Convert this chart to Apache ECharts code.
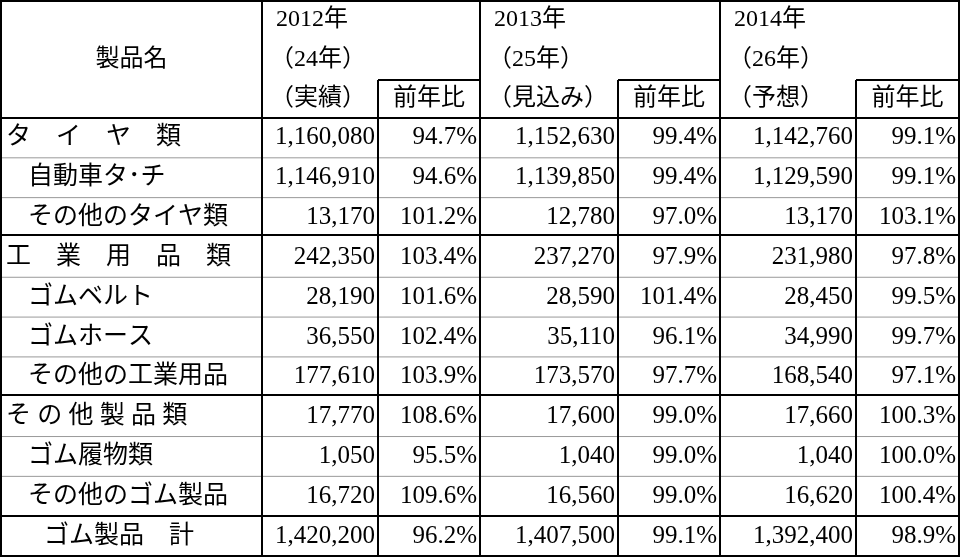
<!DOCTYPE html><html><head><meta charset="utf-8"><script src="https://cdn.jsdelivr.net/npm/echarts@6/dist/echarts.min.js"></script>
<style>html,body{margin:0;background:#fff}#c{width:970px;height:557px}</style></head><body><div id="c"></div><script>
const names=["タ　イ　ヤ　類","自動車タ･チ","その他のタイヤ類","工　業　用　品　類","ゴムベルト","ゴムホース","その他の工業用品","そ の 他 製 品 類","ゴム履物類","その他のゴム製品","ゴム製品　計"];
const nameIndent=[0,1,1,0,1,1,1,0,1,1,2];
const v2012=["1,160,080","1,146,910","13,170","242,350","28,190","36,550","177,610","17,770","1,050","16,720","1,420,200"];
const r2012=["94.7%","94.6%","101.2%","103.4%","101.6%","102.4%","103.9%","108.6%","95.5%","109.6%","96.2%"];
const v2013=["1,152,630","1,139,850","12,780","237,270","28,590","35,110","173,570","17,600","1,040","16,560","1,407,500"];
const r2013=["99.4%","99.4%","97.0%","97.9%","101.4%","96.1%","97.7%","99.0%","99.0%","99.0%","99.1%"];
const v2014=["1,142,760","1,129,590","13,170","231,980","28,450","34,990","168,540","17,660","1,040","16,620","1,392,400"];
const r2014=["99.1%","99.1%","103.1%","97.8%","99.5%","99.7%","97.1%","100.3%","100.0%","100.4%","98.9%"];
const years=["2012年","2013年","2014年"];
const eras=["（24年）","（25年）","（26年）"];
const kinds=["（実績）","（見込み）","（予想）"];
const ratioLabel="前年比", nameHeader="製品名";
const groupRows=[0,3,7,10];
// layout
const colX=[1,262,378,480,618,720,856,959];
const headMid=80, headBot=118, rowH=(556-118)/11;
const rowY=i=>headBot+i*rowH;
const cells=[];
cells.push([(colX[0]+colX[1])/2,60,nameHeader,'center',24]);
for(let k=0;k<3;k++){const lx=colX[1+2*k]+8;
 cells.push([lx+6,20,years[k],'left',24],[lx,60,eras[k],'left',24],[lx,99,kinds[k],'left',24]);
 cells.push([(colX[2+2*k]+colX[3+2*k])/2,99,ratioLabel,'center',24]);}
const cols=[v2012,r2012,v2013,r2013,v2014,r2014];
names.forEach((n,i)=>{const y=rowY(i)+rowH/2;
 cells.push([[6,28,44][nameIndent[i]],y,n,'left',25]);
 cols.forEach((c,j)=>cells.push([colX[j+2]-3,y,c[i],'right',25]));});
const lines=[];
[1,118,235,395,516,556].forEach(y=>lines.push([0,y,960,y,2,'#000']));
for(let i=1;i<11;i++){const y=rowY(i);if(!groupRows.includes(i))lines.push([0,y,960,y,1,'#999']);}
[2,4,6].forEach(j=>lines.push([colX[j],headMid,colX[j+1],headMid,2,'#000']));
colX.forEach((x,j)=>lines.push([x,(j%2===0&&j>0&&j<7)?headMid:0,x,557,2,'#000']));
const ch=echarts.init(document.getElementById('c'));
ch.setOption({animation:false,grid:{left:0,right:0,top:0,bottom:0},
xAxis:{type:'value',min:0,max:970,show:false},yAxis:{type:'value',min:0,max:557,inverse:true,show:false},
series:[{type:'custom',data:lines,renderItem:(p,api)=>{const a=api.coord([api.value(0),api.value(1)]),b=api.coord([api.value(2),api.value(3)]);
 return {type:'line',shape:{x1:a[0],y1:a[1],x2:b[0],y2:b[1]},style:{stroke:lines[p.dataIndex][5],lineWidth:lines[p.dataIndex][4]}};}},
{type:'custom',data:cells.map(c=>[c[0],c[1]]),renderItem:(p,api)=>{const c=cells[p.dataIndex];const a=api.coord([c[0],c[1]]);
 return {type:'text',x:a[0],y:a[1],style:{text:c[2],align:c[3],verticalAlign:'middle',fontSize:c[4],fill:'#000',fontFamily:'"Liberation Serif","Noto Sans CJK JP",serif'}};}}]});
</script></body></html>
